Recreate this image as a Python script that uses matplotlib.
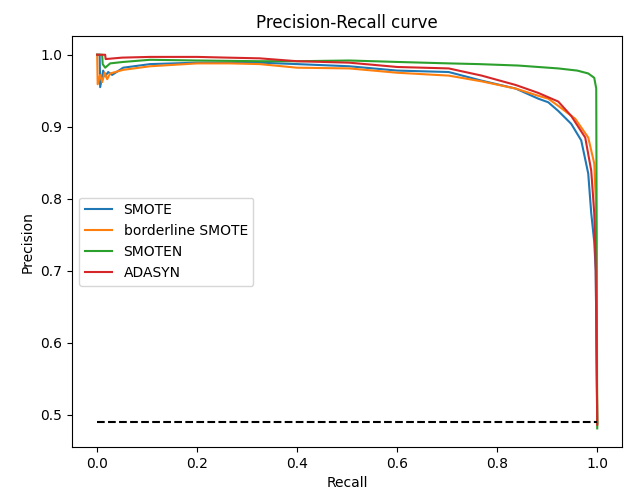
"""Precision-Recall curves for four oversampling methods."""

import matplotlib

matplotlib.use("Agg")
import matplotlib.pyplot as plt

# values (recall, precision)
smote_recall = [0.0, 0.005, 0.006, 0.012, 0.016, 0.022, 0.030, 0.052, 0.106, 0.2, 0.325, 0.4,
                0.504, 0.6, 0.703, 0.769, 0.837, 0.882, 0.902, 0.922, 0.948, 0.968, 0.982,
                0.988, 0.994, 0.997, 1.0]
smote_precision = [1.0, 1.0, 0.955, 0.978, 0.970, 0.976, 0.972, 0.982, 0.987, 0.989, 0.989, 0.987,
                   0.984, 0.978, 0.976, 0.964, 0.953, 0.939, 0.934, 0.922, 0.904, 0.881, 0.835,
                   0.78, 0.74, 0.70, 0.488]

borderline_recall = [0.0, 0.001, 0.006, 0.010, 0.015, 0.020, 0.026, 0.052, 0.106, 0.2, 0.265,
                     0.325, 0.4, 0.504, 0.6, 0.703, 0.769, 0.837, 0.882, 0.902, 0.922, 0.956,
                     0.982, 0.994, 0.997, 1.0]
borderline_precision = [1.0, 0.959, 0.972, 0.962, 0.975, 0.966, 0.974, 0.979, 0.984, 0.988, 0.988,
                        0.987, 0.982, 0.981, 0.975, 0.971, 0.963, 0.953, 0.943, 0.939, 0.929,
                        0.911, 0.885, 0.849, 0.80, 0.488]

smoten_recall = [0.0, 0.010, 0.011, 0.016, 0.026, 0.052, 0.106, 0.2, 0.325, 0.4, 0.504, 0.6,
                 0.703, 0.763, 0.842, 0.902, 0.922, 0.96, 0.982, 0.994, 0.998, 1.0]
smoten_precision = [1.0, 1.0, 0.987, 0.982, 0.988, 0.990, 0.993, 0.992, 0.991, 0.991, 0.992, 0.990,
                    0.988, 0.987, 0.985, 0.982, 0.981, 0.978, 0.974, 0.968, 0.953, 0.481]

adasyn_recall = [0.0, 0.016, 0.017, 0.05, 0.106, 0.2, 0.26, 0.325, 0.4, 0.504, 0.6, 0.703, 0.769,
                 0.837, 0.882, 0.902, 0.922, 0.948, 0.976, 0.988, 0.994, 0.997, 1.0]
adasyn_precision = [1.0, 1.0, 0.994, 0.996, 0.997, 0.997, 0.996, 0.995, 0.991, 0.989, 0.983, 0.981,
                    0.971, 0.958, 0.947, 0.941, 0.935, 0.915, 0.885, 0.839, 0.78, 0.70, 0.486]

baseline_recall = [0.0, 1.0]
baseline_precision = [0.4893, 0.4893]

curves = [
    ("SMOTE", smote_recall, smote_precision),
    ("borderline SMOTE", borderline_recall, borderline_precision),
    ("SMOTEN", smoten_recall, smoten_precision),
    ("ADASYN", adasyn_recall, adasyn_precision),
]

fig, ax = plt.subplots(figsize=(6.33, 4.94), dpi=100)
for label, recall, precision in curves:
    ax.plot(recall, precision, label=label)
ax.plot(baseline_recall, baseline_precision, "k--")

ax.set_title("Precision-Recall curve")
ax.set_xlabel("Recall")
ax.set_ylabel("Precision")
ax.legend(loc="center left")

fig.subplots_adjust(left=0.114, right=0.983, top=0.927, bottom=0.095)
fig.savefig("out.png", dpi=100)
